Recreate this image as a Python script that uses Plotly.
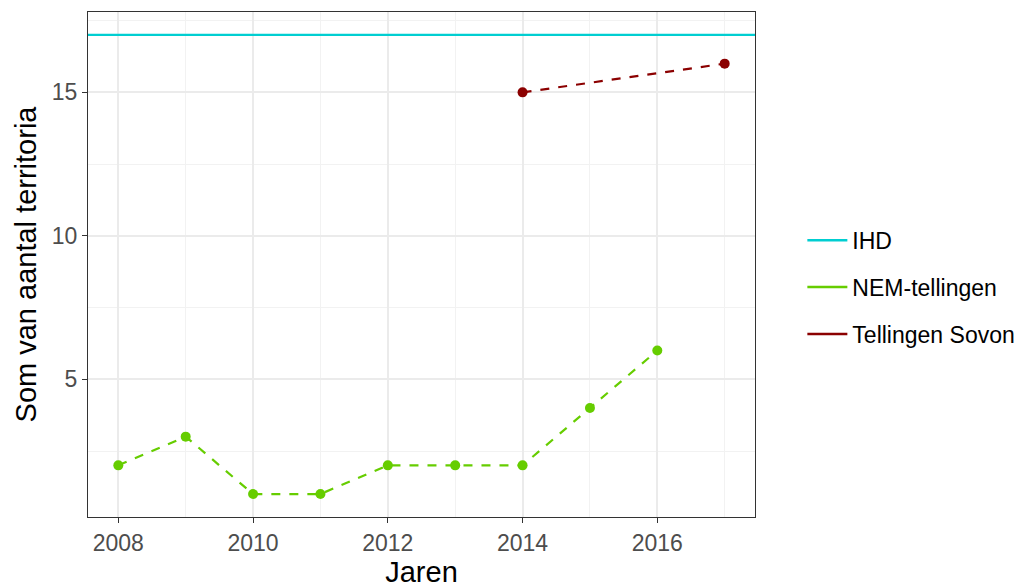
import plotly.graph_objects as go

years_nem = [2008, 2009, 2010, 2011, 2012, 2013, 2014, 2015, 2016]
nem_values = [2, 3, 1, 1, 2, 2, 2, 4, 6]
years_sovon = [2014, 2017]
sovon_values = [15, 16]
ihd_value = 17

series_names = ["IHD", "NEM-tellingen", "Tellingen Sovon"]
colors = {"IHD": "#00CED1", "NEM-tellingen": "#66CD00", "Tellingen Sovon": "#8B0000"}

x_ticks = [2008, 2010, 2012, 2014, 2016]
y_ticks = [5, 10, 15]

FONT = "Liberation Sans, Arial"

fig = go.Figure()

fig.add_hline(y=ihd_value, line=dict(color=colors["IHD"], width=2.2), layer="above")

fig.add_trace(go.Scatter(x=years_nem, y=nem_values, mode="lines+markers",
                         line=dict(color=colors["NEM-tellingen"], width=2.2, dash="dash"),
                         marker=dict(size=10, color=colors["NEM-tellingen"]),
                         showlegend=False))
fig.add_trace(go.Scatter(x=years_sovon, y=sovon_values, mode="lines+markers",
                         line=dict(color=colors["Tellingen Sovon"], width=2.2, dash="dash"),
                         marker=dict(size=10, color=colors["Tellingen Sovon"]),
                         showlegend=False))

for name in series_names:
    fig.add_trace(go.Scatter(x=[None], y=[None], mode="lines", name=name,
                             line=dict(color=colors[name], width=2.5),
                             legendgroup=name, showlegend=True))

axis_common = dict(showline=True, mirror=True, linecolor="#333333", linewidth=1.2,
                   ticks="outside", ticklen=5, tickcolor="#333333", tickwidth=1.2,
                   gridcolor="#EBEBEB", gridwidth=1.5, zeroline=False, automargin=False,
                   tickfont=dict(family=FONT, size=23, color="#4D4D4D"))

fig.update_xaxes(range=[2007.55, 2017.45], tickvals=x_ticks, ticktext=[str(v) for v in x_ticks],
                 title=dict(text="Jaren", font=dict(family=FONT, size=29, color="black"), standoff=4),
                 minor=dict(tickvals=[2009, 2011, 2013, 2015, 2017], ticks="", showgrid=True,
                            gridcolor="#F2F2F2", gridwidth=0.9),
                 **axis_common)
fig.update_yaxes(range=[0.2, 17.8], tickvals=y_ticks, ticktext=[str(v) for v in y_ticks],
                 title=dict(text="Som van aantal territoria", font=dict(family=FONT, size=29, color="black"), standoff=6),
                 minor=dict(tickvals=[2.5, 7.5, 12.5, 17.5], ticks="", showgrid=True,
                            gridcolor="#F2F2F2", gridwidth=0.9),
                 **axis_common)

fig.update_layout(
    width=1032, height=588,
    margin=dict(l=88, r=277, t=12, b=71),
    plot_bgcolor="white", paper_bgcolor="white",
    legend=dict(x=1.071, y=0.455, xanchor="left", yanchor="middle",
                font=dict(family=FONT, size=23, color="black"),
                itemwidth=40, tracegroupgap=14, bgcolor="rgba(0,0,0,0)"),
    font=dict(family=FONT),
)

fig.write_html("out.html", config={"displayModeBar": False},
               post_script="document.body.style.margin='0';document.body.style.overflow='hidden';")
